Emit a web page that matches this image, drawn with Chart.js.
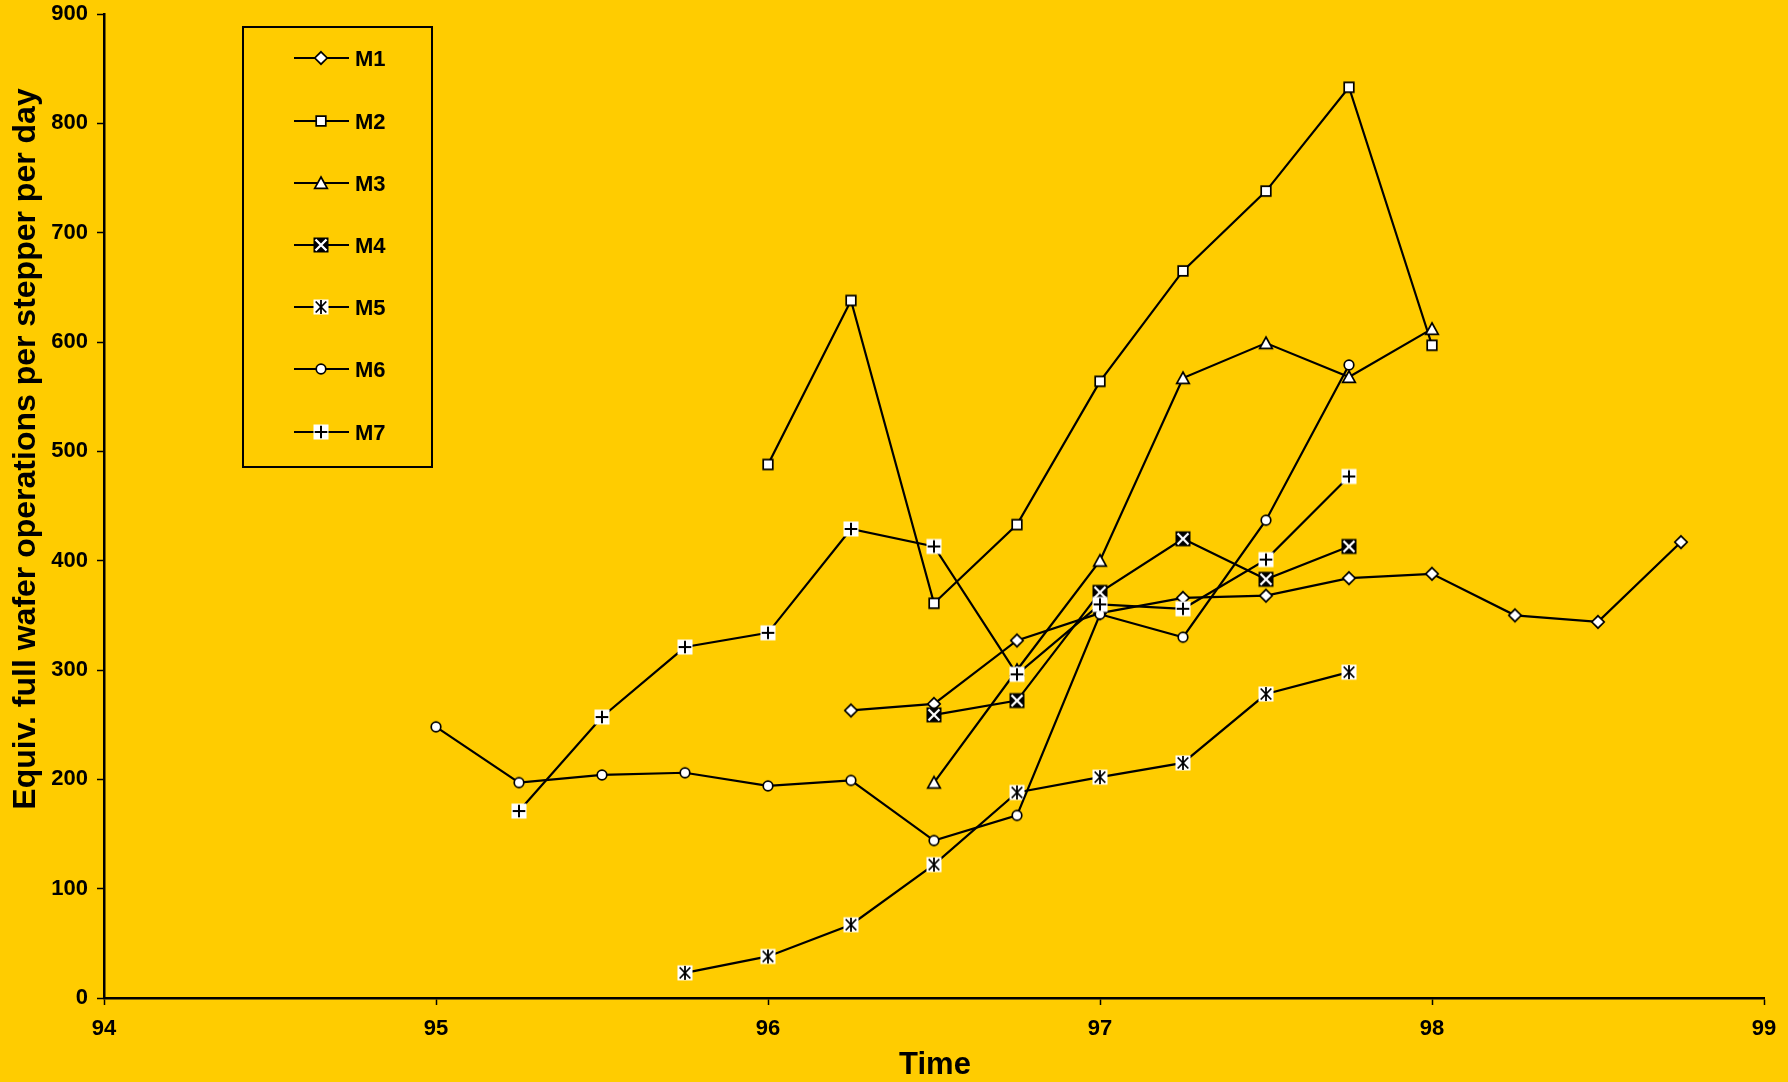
<!DOCTYPE html>
<html>
<head>
<meta charset="utf-8">
<title>Equiv. full wafer operations per stepper per day</title>
<script src="https://cdn.jsdelivr.net/npm/chart.js@4/dist/chart.umd.min.js"></script>
<style>
  html, body { margin: 0; padding: 0; background: #FFCC00; }
  #chart { display: block; }
</style>
</head>
<body>
<canvas id="chart" width="1788" height="1082"></canvas>
<script>
// Quarterly time points (year + fraction)
const quarters = [95, 95.25, 95.5, 95.75, 96, 96.25, 96.5, 96.75, 97, 97.25, 97.5, 97.75, 98, 98.25, 98.5, 98.75];

// Equivalent full wafer operations per stepper per day, one array per fab
const m1 = [null, null, null, null, null, 263, 269, 327, 352, 366, 368, 384, 388, 350, 344, 417];
const m2 = [null, null, null, null, 488, 638, 361, 433, 564, 665, 738, 833, 597, null, null, null];
const m3 = [null, null, null, null, null, null, 197, 300, 400, 567, 599, 568, 612, null, null, null];
const m4 = [null, null, null, null, null, null, 259, 272, 371, 420, 383, 413, null, null, null, null];
const m5 = [null, null, null, 23, 38, 67, 122, 188, 202, 215, 278, 298, null, null, null, null];
const m6 = [248, 197, 204, 206, 194, 199, 144, 167, 351, 330, 437, 579, null, null, null, null];
const m7 = [null, 171, 257, 321, 334, 429, 413, 296, 360, 356, 401, 477, null, null, null, null];

const seriesNames = ['M1', 'M2', 'M3', 'M4', 'M5', 'M6', 'M7'];
const seriesValues = [m1, m2, m3, m4, m5, m6, m7];
const markerKinds = ['diamond', 'square', 'triangle', 'boxX', 'star', 'circle', 'plus'];

const xTitle = 'Time';
const yTitle = 'Equiv. full wafer operations per stepper per day';

const FONT = '"Liberation Sans", Arial, Helvetica, sans-serif';
const BG = '#FFCC00';

// Small canvases used as point styles (and reused by the legend)
function makeMarker(kind) {
  const c = document.createElement('canvas');
  c.width = 18; c.height = 18;
  const g = c.getContext('2d');
  const m = 9;
  g.strokeStyle = '#000';
  g.fillStyle = '#fff';
  g.lineWidth = 1.7;
  g.lineJoin = 'miter';
  switch (kind) {
    case 'diamond':
      g.beginPath();
      g.moveTo(m, m - 6.2); g.lineTo(m + 6.2, m); g.lineTo(m, m + 6.2); g.lineTo(m - 6.2, m);
      g.closePath(); g.fill(); g.stroke();
      break;
    case 'square':
      g.beginPath();
      g.rect(m - 4.8, m - 4.8, 9.6, 9.6);
      g.fill(); g.stroke();
      break;
    case 'triangle':
      g.beginPath();
      g.moveTo(m, m - 6); g.lineTo(m + 6.3, m + 5.4); g.lineTo(m - 6.3, m + 5.4);
      g.closePath(); g.fill(); g.stroke();
      break;
    case 'boxX':
      g.fillStyle = '#000';
      g.fillRect(m - 7.5, m - 7.5, 15, 15);
      g.strokeStyle = '#fff';
      g.lineWidth = 2.3;
      g.beginPath();
      g.moveTo(m - 5.5, m - 5.5); g.lineTo(m + 5.5, m + 5.5);
      g.moveTo(m + 5.5, m - 5.5); g.lineTo(m - 5.5, m + 5.5);
      g.stroke();
      break;
    case 'star':
      g.fillRect(m - 7.5, m - 7.5, 15, 15);
      g.lineWidth = 1.8;
      g.beginPath();
      g.moveTo(m - 5.3, m - 5.5); g.lineTo(m + 5.3, m + 5.5);
      g.moveTo(m + 5.3, m - 5.5); g.lineTo(m - 5.3, m + 5.5);
      g.moveTo(m, m - 7); g.lineTo(m, m + 7);
      g.stroke();
      break;
    case 'circle':
      g.beginPath();
      g.arc(m, m, 4.8, 0, Math.PI * 2);
      g.fill(); g.stroke();
      break;
    case 'plus':
      g.fillRect(m - 7.5, m - 7.5, 15, 15);
      g.lineWidth = 2;
      g.beginPath();
      g.moveTo(m - 6.3, m); g.lineTo(m + 6.3, m);
      g.moveTo(m, m - 6.3); g.lineTo(m, m + 6.3);
      g.stroke();
      break;
  }
  return c;
}

const markers = markerKinds.map(makeMarker);

const datasets = seriesNames.map((name, i) => ({
  label: name,
  data: quarters
    .map((q, k) => ({ x: q, y: seriesValues[i][k] }))
    .filter(p => p.y !== null),
  borderColor: '#000',
  borderWidth: 2.2,
  backgroundColor: '#fff',
  pointStyle: markers[i],
  pointRadius: 7,
  pointHoverRadius: 7,
  tension: 0,
  fill: false,
  order: seriesNames.length - i
}));

// Background, axis titles and the boxed legend
const decorations = {
  id: 'decorations',
  beforeDraw(chart) {
    const ctx = chart.ctx;
    ctx.save();
    ctx.fillStyle = BG;
    ctx.fillRect(0, 0, chart.width, chart.height);
    ctx.restore();
  },
  afterDraw(chart) {
    const ctx = chart.ctx;
    const area = chart.chartArea;
    ctx.save();
    ctx.fillStyle = '#000';

    // x axis title
    ctx.font = 'bold 31px ' + FONT;
    ctx.textAlign = 'center';
    ctx.textBaseline = 'alphabetic';
    ctx.fillText(xTitle, (area.left + area.right) / 2 + 1, 1074);

    // y axis title
    ctx.save();
    ctx.font = 'bold 32px ' + FONT;
    ctx.translate(35, 449);
    ctx.rotate(-Math.PI / 2);
    ctx.fillText(yTitle, 0, 0);
    ctx.restore();

    // legend
    const boxL = 243, boxT = 27, boxW = 189, boxH = 440;
    ctx.strokeStyle = '#000';
    ctx.lineWidth = 2;
    ctx.strokeRect(boxL, boxT, boxW, boxH);

    const rowTop = 58.3, rowStep = 62.2;
    ctx.font = 'bold 22px ' + FONT;
    ctx.textAlign = 'left';
    ctx.textBaseline = 'alphabetic';
    chart.data.datasets.forEach((ds, i) => {
      const y = Math.round(rowTop + i * rowStep);
      ctx.beginPath();
      ctx.lineWidth = 2;
      ctx.moveTo(294, y);
      ctx.lineTo(349, y);
      ctx.stroke();
      const img = ds.pointStyle;
      ctx.drawImage(img, 321 - img.width / 2, y - img.height / 2);
      ctx.fillText(ds.label, 355, y + 8);
    });
    ctx.restore();
  }
};

new Chart(document.getElementById('chart'), {
  type: 'line',
  data: { datasets },
  options: {
    responsive: false,
    animation: false,
    devicePixelRatio: 1,
    layout: { padding: { top: 14, right: 24, left: 0, bottom: 0 } },
    plugins: {
      legend: { display: false },
      tooltip: { enabled: false },
      title: { display: false }
    },
    elements: { line: { borderCapStyle: 'round', borderJoinStyle: 'miter' } },
    scales: {
      x: {
        type: 'linear',
        min: 94,
        max: 99,
        ticks: {
          stepSize: 1,
          color: '#000',
          padding: 11,
          font: { family: FONT, size: 22, weight: 'bold' },
          callback: v => String(v)
        },
        grid: { drawOnChartArea: false, drawTicks: true, tickLength: 7, tickWidth: 1.5, tickColor: '#000' },
        border: { display: true, color: '#000', width: 2.5 },
        afterFit: s => { s.height = 84; s.paddingLeft = 0; s.paddingRight = 0; }
      },
      y: {
        type: 'linear',
        min: 0,
        max: 900,
        ticks: {
          stepSize: 100,
          color: '#000',
          padding: 9,
          font: { family: FONT, size: 22, weight: 'bold' }
        },
        grid: { drawOnChartArea: false, drawTicks: true, tickLength: 7, tickWidth: 1.5, tickColor: '#000' },
        border: { display: true, color: '#000', width: 2.5 },
        afterFit: s => { s.width = 104; s.paddingTop = 0; s.paddingBottom = 0; }
      }
    }
  },
  plugins: [decorations]
});
</script>
</body>
</html>
